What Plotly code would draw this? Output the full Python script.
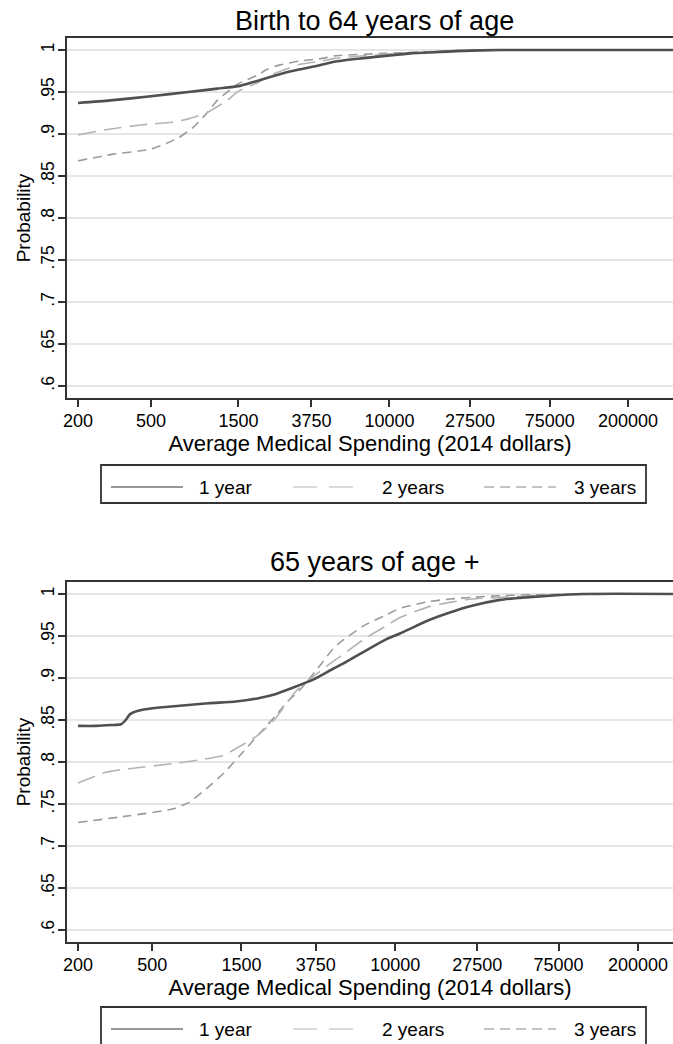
import math
import plotly.graph_objects as go

# ---------------- data ----------------
tick_vals_x = [200, 500, 1500, 3750, 10000, 27500, 75000, 200000]
tick_text_x = ["200", "500", "1500", "3750", "10000", "27500", "75000", "200000"]
tick_vals_y = [0.6, 0.65, 0.7, 0.75, 0.8, 0.85, 0.9, 0.95, 1.0]
tick_text_y = [".6", ".65", ".7", ".75", ".8", ".85", ".9", ".95", "1"]

# Panel 1: Birth to 64 years of age
top_x_1yr = [200, 300, 500, 800, 1150, 1500, 1750, 2100, 2600, 3250, 4000, 5000, 7000, 9500, 13000, 16500, 25000, 40000, 100000, 400000]
top_p_1yr = [0.937, 0.940, 0.945, 0.950, 0.954, 0.957, 0.961, 0.966, 0.972, 0.977, 0.981, 0.986, 0.990, 0.993, 0.996, 0.997, 0.999, 1.0, 1.0, 1.0]
top_x_2yr = [200, 300, 450, 650, 800, 1000, 1300, 1500, 1900, 2150, 2500, 3250, 4300, 5000, 9500, 16500, 27500, 50000, 400000]
top_p_2yr = [0.899, 0.906, 0.911, 0.914, 0.918, 0.925, 0.940, 0.951, 0.961, 0.968, 0.974, 0.983, 0.987, 0.990, 0.995, 0.998, 0.9995, 1.0, 1.0]
top_x_3yr = [200, 310, 500, 700, 850, 1000, 1150, 1300, 1500, 1900, 2150, 2500, 3250, 4300, 5000, 9500, 16500, 27500, 400000]
top_p_3yr = [0.868, 0.876, 0.882, 0.895, 0.908, 0.924, 0.940, 0.950, 0.960, 0.970, 0.977, 0.982, 0.987, 0.990, 0.993, 0.996, 0.998, 1.0, 1.0]

# Panel 2: 65 years of age +
bot_x_1yr = [200, 250, 300, 340, 360, 380, 420, 500, 700, 1000, 1400, 1850, 2300, 2800, 3630, 4650, 5250, 7000, 8930, 10600, 15200, 19600, 25800, 36400, 44000, 67400, 100000, 400000]
bot_p_1yr = [0.843, 0.843, 0.844, 0.845, 0.850, 0.857, 0.861, 0.864, 0.867, 0.870, 0.872, 0.876, 0.881, 0.888, 0.898, 0.911, 0.917, 0.933, 0.946, 0.953, 0.969, 0.978, 0.986, 0.993, 0.995, 0.998, 1.0, 1.0]
bot_x_2yr = [200, 286, 375, 639, 922, 1200, 1403, 1841, 2265, 2930, 4055, 5250, 6880, 8930, 10600, 15200, 19600, 25800, 36400, 67400, 400000]
bot_p_2yr = [0.775, 0.788, 0.792, 0.798, 0.803, 0.808, 0.816, 0.832, 0.851, 0.884, 0.910, 0.928, 0.947, 0.962, 0.972, 0.985, 0.990, 0.994, 0.996, 0.999, 1.0]
bot_x_3yr = [200, 375, 639, 787, 970, 1197, 1476, 1841, 2265, 2650, 3090, 4055, 4650, 5250, 6880, 8930, 10600, 15200, 19600, 25800, 36400, 67400, 400000]
bot_p_3yr = [0.728, 0.736, 0.744, 0.752, 0.768, 0.786, 0.808, 0.832, 0.854, 0.872, 0.886, 0.918, 0.935, 0.945, 0.963, 0.975, 0.983, 0.991, 0.994, 0.996, 0.998, 0.9995, 1.0]

series_names = ["1 year", "2 years", "3 years"]
panel_titles = ["Birth to 64 years of age", "65 years of age +"]
x_title = "Average Medical Spending (2014 dollars)"
y_title = "Probability"

# ---------------- styling ----------------
W, H = 673, 1044
FONT = "Liberation Sans, Arial, Helvetica, sans-serif"
styles = [
    dict(color="#505050", width=2.6, dash="solid"),
    dict(color="#b4b4b4", width=1.6, dash="18px,8px"),
    dict(color="#9a9a9a", width=1.6, dash="9px,6px"),
]
leg_styles = [
    dict(color="#333333", width=1.2, dash="solid"),
    dict(color="#b4b4b4", width=1.2, dash="24px,12px"),
    dict(color="#888888", width=1.2, dash="10px,6px"),
]

def fy(p):
    return 1 - p / H

def fx(p):
    return p / W

fig = go.Figure()
panels = [
    (("x", "y"), [(top_x_1yr, top_p_1yr), (top_x_2yr, top_p_2yr), (top_x_3yr, top_p_3yr)]),
    (("x2", "y2"), [(bot_x_1yr, bot_p_1yr), (bot_x_2yr, bot_p_2yr), (bot_x_3yr, bot_p_3yr)]),
]
for (xa, ya), series in panels:
    for i in [2, 1, 0]:
        xs, ps = series[i]
        fig.add_trace(go.Scatter(
            x=xs, y=ps, mode="lines", name=series_names[i],
            line=dict(color=styles[i]["color"], width=styles[i]["width"],
                      dash=styles[i]["dash"], shape="spline", smoothing=0.6),
            xaxis=xa, yaxis=ya, showlegend=False, hoverinfo="skip",
        ))

def xaxis_cfg(rng, domain, standoff):
    return dict(
        type="log", range=rng, domain=domain,
        tickmode="array", tickvals=tick_vals_x, ticktext=tick_text_x,
        ticks="outside", ticklen=7, tickwidth=1.5, tickcolor="#333333",
        ticklabelstandoff=-2,
        showline=True, linecolor="#333333", linewidth=2.2, mirror=True,
        showgrid=False, zeroline=False, automargin=False,
        tickfont=dict(family=FONT, size=18, color="black"),
        title=dict(text=x_title, font=dict(family=FONT, size=22, color="black"), standoff=standoff),
    )

def yaxis_cfg(domain):
    return dict(
        range=[0.5857, 1.0143], domain=domain,
        tickmode="array", tickvals=tick_vals_y, ticktext=tick_text_y, tickangle=-90,
        ticks="outside", ticklen=7, tickwidth=1.5, tickcolor="#333333",
        ticklabelstandoff=-3,
        showline=True, linecolor="#333333", linewidth=2.2, mirror=False,
        showgrid=True, gridcolor="#e6e6e6", gridwidth=1.5, zeroline=False, automargin=False,
        tickfont=dict(family=FONT, size=17.5, color="black"),
        title=dict(text=y_title, font=dict(family=FONT, size=19, color="black"), standoff=2),
    )

xd = [67 / W, 1.0]
fig.update_layout(
    width=W, height=H,
    margin=dict(l=0, r=0, t=0, b=0),
    paper_bgcolor="white", plot_bgcolor="white",
    showlegend=False,
    xaxis={**xaxis_cfg([math.log10(174), 5.547], xd, 6), "anchor": "y"},
    yaxis={**yaxis_cfg([fy(398), fy(38)]), "anchor": "x"},
    xaxis2={**xaxis_cfg([math.log10(174.5), 5.488], xd, 0), "anchor": "y2"},
    yaxis2={**yaxis_cfg([fy(942), fy(582)]), "anchor": "x2"},
)

for title, yc in zip(panel_titles, [21, 562]):
    fig.add_annotation(text=title, x=fx(374), y=fy(yc), xref="paper", yref="paper",
                       xanchor="center", yanchor="middle", showarrow=False,
                       font=dict(family=FONT, size=27, color="black"))

for box_top, box_bot, yc in [(465, 503, 487), (1007, 1047, 1029)]:
    fig.add_shape(type="rect", xref="paper", yref="paper",
                  x0=fx(101), x1=fx(646), y0=fy(box_bot), y1=fy(box_top),
                  line=dict(color="#333333", width=1.8), fillcolor="white", layer="above")
    for i, (sx0, sx1, tx) in enumerate([(111, 183, 197), (293, 359, 380), (484, 556, 572)]):
        st = leg_styles[i]
        fig.add_shape(type="line", xref="paper", yref="paper",
                      x0=fx(sx0), x1=fx(sx1), y0=fy(yc), y1=fy(yc),
                      line=dict(color=st["color"], width=st["width"], dash=st["dash"]))
        fig.add_annotation(text=series_names[i], x=fx(tx), y=fy(yc), xref="paper", yref="paper",
                           xanchor="left", yanchor="middle", showarrow=False,
                           font=dict(family=FONT, size=19, color="black"))

fig.write_html("out.html", config={"displayModeBar": False},
               post_script="document.body.style.margin='0';")
